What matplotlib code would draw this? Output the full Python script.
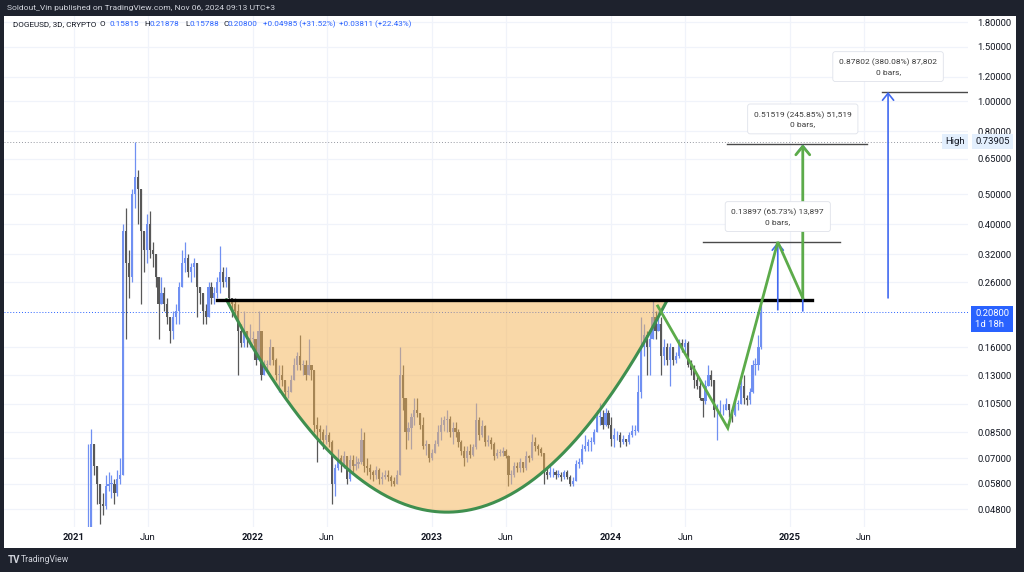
import matplotlib
matplotlib.use('Agg')
import matplotlib.pyplot as plt
import matplotlib.dates as mdates
import matplotlib.transforms as mtrans
from matplotlib.patches import Rectangle
from matplotlib.ticker import NullLocator
import numpy as np
import pandas as pd

plt.rcParams['font.family'] = ['Roboto', 'DejaVu Sans']

W, H = 1024, 572

# DOGEUSD candles (one candle per 6 days from 2021-01-28)
first_open = 0.0075
closes = [0.037, 0.078, 0.066, 0.058, 0.050, 0.049, 0.057, 0.058, 0.058, 0.054,
          0.060, 0.062, 0.38, 0.30, 0.27, 0.50, 0.57, 0.52, 0.38, 0.33,
          0.40, 0.33, 0.32, 0.27, 0.22, 0.24, 0.22, 0.20, 0.18, 0.20,
          0.21, 0.25, 0.30, 0.31, 0.28, 0.29, 0.30, 0.25, 0.24, 0.21,
          0.20, 0.25, 0.23, 0.24, 0.26, 0.28, 0.26, 0.27, 0.23, 0.22,
          0.21, 0.18, 0.165, 0.18, 0.17, 0.17, 0.17, 0.145, 0.18, 0.13,
          0.14, 0.14, 0.16, 0.145, 0.13, 0.13, 0.125, 0.115, 0.115, 0.125,
          0.14, 0.15, 0.14, 0.14, 0.13, 0.14, 0.135, 0.09, 0.087, 0.085,
          0.08, 0.083, 0.079, 0.058, 0.065, 0.07, 0.067, 0.071, 0.06, 0.069,
          0.066, 0.067, 0.068, 0.08, 0.066, 0.065, 0.063, 0.062, 0.064, 0.06,
          0.061, 0.062, 0.061, 0.059, 0.058, 0.062, 0.13, 0.11, 0.085, 0.088,
          0.095, 0.10, 0.098, 0.09, 0.077, 0.078, 0.07, 0.073, 0.078, 0.085,
          0.09, 0.093, 0.094, 0.085, 0.088, 0.085, 0.079, 0.074, 0.07, 0.074,
          0.072, 0.076, 0.093, 0.083, 0.089, 0.079, 0.08, 0.078, 0.071, 0.073,
          0.073, 0.074, 0.071, 0.062, 0.062, 0.066, 0.065, 0.068, 0.065, 0.071,
          0.07, 0.079, 0.077, 0.075, 0.073, 0.063, 0.062, 0.063, 0.063, 0.062,
          0.062, 0.061, 0.063, 0.061, 0.058, 0.059, 0.067, 0.068, 0.075, 0.077,
          0.079, 0.079, 0.085, 0.095, 0.095, 0.09, 0.098, 0.09, 0.081, 0.083,
          0.083, 0.079, 0.081, 0.079, 0.083, 0.086, 0.086, 0.115, 0.16, 0.175,
          0.16, 0.17, 0.20, 0.18, 0.19, 0.15, 0.16, 0.145, 0.16, 0.145,
          0.15, 0.165, 0.16, 0.165, 0.14, 0.135, 0.125, 0.12, 0.11, 0.107,
          0.12, 0.13, 0.125, 0.10, 0.10, 0.10, 0.10, 0.105, 0.10, 0.097,
          0.105, 0.105, 0.12, 0.11, 0.108, 0.115, 0.14, 0.14, 0.16, 0.208]
highs = [0.078, 0.087, 0.078, 0.063, 0.058, 0.054, 0.062, 0.063, 0.062, 0.060,
         0.064, 0.070, 0.40, 0.45, 0.33, 0.52, 0.739, 0.60, 0.52, 0.38,
         0.43, 0.44, 0.35, 0.32, 0.27, 0.27, 0.25, 0.23, 0.20, 0.21,
         0.22, 0.26, 0.33, 0.35, 0.32, 0.30, 0.31, 0.30, 0.25, 0.24,
         0.22, 0.26, 0.26, 0.25, 0.27, 0.34, 0.29, 0.29, 0.27, 0.23,
         0.23, 0.22, 0.19, 0.21, 0.18, 0.19, 0.18, 0.17, 0.21, 0.18,
         0.145, 0.145, 0.17, 0.16, 0.148, 0.14, 0.14, 0.125, 0.12, 0.13,
         0.148, 0.155, 0.175, 0.145, 0.145, 0.17, 0.14, 0.135, 0.095, 0.09,
         0.087, 0.09, 0.085, 0.08, 0.067, 0.075, 0.072, 0.074, 0.07, 0.072,
         0.072, 0.071, 0.07, 0.088, 0.085, 0.07, 0.067, 0.064, 0.066, 0.065,
         0.063, 0.064, 0.064, 0.062, 0.061, 0.064, 0.16, 0.14, 0.11, 0.092,
         0.098, 0.11, 0.11, 0.097, 0.095, 0.08, 0.078, 0.075, 0.08, 0.09,
         0.095, 0.096, 0.10, 0.096, 0.092, 0.092, 0.087, 0.08, 0.077, 0.077,
         0.078, 0.078, 0.106, 0.095, 0.093, 0.09, 0.083, 0.082, 0.079, 0.075,
         0.075, 0.076, 0.075, 0.072, 0.064, 0.068, 0.068, 0.07, 0.068, 0.074,
         0.072, 0.084, 0.082, 0.078, 0.076, 0.073, 0.065, 0.066, 0.065, 0.064,
         0.064, 0.063, 0.064, 0.064, 0.062, 0.061, 0.069, 0.07, 0.078, 0.083,
         0.081, 0.082, 0.087, 0.10, 0.106, 0.10, 0.102, 0.10, 0.095, 0.088,
         0.086, 0.085, 0.083, 0.081, 0.085, 0.09, 0.09, 0.13, 0.20, 0.19,
         0.18, 0.18, 0.227, 0.21, 0.21, 0.20, 0.17, 0.165, 0.165, 0.16,
         0.155, 0.17, 0.17, 0.17, 0.168, 0.145, 0.14, 0.13, 0.125, 0.11,
         0.125, 0.14, 0.135, 0.125, 0.105, 0.108, 0.105, 0.11, 0.105, 0.10,
         0.107, 0.108, 0.125, 0.13, 0.112, 0.118, 0.145, 0.148, 0.175, 0.219]
lows = [0.0075, 0.035, 0.062, 0.050, 0.043, 0.046, 0.048, 0.055, 0.052, 0.050,
        0.053, 0.058, 0.062, 0.17, 0.23, 0.26, 0.45, 0.40, 0.22, 0.28,
        0.30, 0.31, 0.29, 0.25, 0.17, 0.22, 0.21, 0.19, 0.165, 0.17,
        0.19, 0.19, 0.25, 0.28, 0.27, 0.26, 0.27, 0.20, 0.22, 0.19,
        0.19, 0.20, 0.22, 0.22, 0.23, 0.24, 0.25, 0.25, 0.22, 0.20,
        0.20, 0.13, 0.16, 0.16, 0.16, 0.16, 0.165, 0.14, 0.145, 0.125,
        0.13, 0.135, 0.14, 0.14, 0.125, 0.115, 0.12, 0.11, 0.11, 0.115,
        0.125, 0.135, 0.135, 0.13, 0.125, 0.13, 0.125, 0.085, 0.068, 0.08,
        0.075, 0.078, 0.076, 0.050, 0.053, 0.064, 0.063, 0.065, 0.058, 0.059,
        0.063, 0.064, 0.065, 0.067, 0.063, 0.062, 0.060, 0.059, 0.060, 0.058,
        0.058, 0.060, 0.059, 0.057, 0.057, 0.058, 0.07, 0.10, 0.075, 0.08,
        0.075, 0.09, 0.095, 0.087, 0.075, 0.072, 0.068, 0.069, 0.073, 0.077,
        0.08, 0.086, 0.085, 0.082, 0.078, 0.082, 0.076, 0.072, 0.066, 0.068,
        0.07, 0.071, 0.075, 0.08, 0.082, 0.077, 0.077, 0.075, 0.069, 0.07,
        0.071, 0.071, 0.07, 0.057, 0.058, 0.061, 0.063, 0.063, 0.063, 0.064,
        0.068, 0.069, 0.074, 0.072, 0.071, 0.058, 0.06, 0.061, 0.061, 0.06,
        0.061, 0.059, 0.06, 0.06, 0.057, 0.057, 0.059, 0.065, 0.067, 0.074,
        0.074, 0.074, 0.078, 0.085, 0.09, 0.087, 0.089, 0.088, 0.077, 0.076,
        0.08, 0.076, 0.078, 0.077, 0.078, 0.082, 0.083, 0.085, 0.11, 0.15,
        0.13, 0.13, 0.17, 0.17, 0.18, 0.13, 0.14, 0.14, 0.12, 0.14,
        0.142, 0.148, 0.155, 0.155, 0.138, 0.13, 0.118, 0.117, 0.108, 0.095,
        0.105, 0.12, 0.12, 0.095, 0.08, 0.098, 0.097, 0.10, 0.095, 0.092,
        0.096, 0.10, 0.105, 0.105, 0.104, 0.105, 0.114, 0.13, 0.135, 0.158]

price_ticks = [1.8, 1.5, 1.2, 1.0, 0.8, 0.65, 0.5, 0.4, 0.32, 0.26,
               0.16, 0.13, 0.105, 0.085, 0.07, 0.058, 0.048]
date_ticks = ['2021-01-01', '2021-06-01', '2022-01-01', '2022-06-01', '2023-01-01',
              '2023-06-01', '2024-01-01', '2024-06-01', '2025-01-01', '2025-06-01']
date_labels = ['2021', 'Jun', '2022', 'Jun', '2023', 'Jun', '2024', 'Jun', '2025', 'Jun']

last_price = 0.208
all_time_high = 0.73905
neckline = 0.2274

# cup drawing: start, bottom, end
cup_dates = ['2021-11-08', '2023-02-01', '2024-04-25']
cup_bottom = 0.0469

# green zigzag path
zz_dates = ['2024-04-06', '2024-08-27', '2024-12-07', '2025-01-27', '2025-01-27']
zz_prices = [0.2175, 0.0877, 0.3504, 0.2309, 0.7248]

# measurement arrows: date, base, target, label
meas_dates = ['2024-12-07', '2025-01-27', '2025-07-20']
meas_base = [0.2114, 0.2096, 0.2310]
meas_top = [0.3504, 0.7248, 1.07]
meas_text = ['0.13897 (65.73%) 13,897\n0 bars,',
             '0.51519 (245.85%) 51,519\n0 bars,',
             '0.87802 (380.08%) 87,802\n0 bars,']
meas_line_from = ['2024-07-07', '2024-08-25', '2025-07-08']
meas_line_to = ['2025-04-13', '2025-06-08', '2025-12-28']

fig = plt.figure(figsize=(W / 100, H / 100), dpi=100, facecolor='#1e222d')
fig.patches.append(Rectangle((4 / W, 1 - 548 / H), (1016 - 4) / W, (548 - 16) / H,
                             transform=fig.transFigure, fc='white', ec='none', zorder=-5))

ax = fig.add_axes([4 / W, 1 - 527 / H, (968 - 4) / W, (527 - 16) / H])
ax.set_zorder(2)
ax.set_facecolor('white')
ax.set_yscale('log')
base = mdates.date2num(pd.Timestamp('2021-01-01'))
ax.set_xlim(base - 142.8, base + 1824.1)
ax.set_ylim(0.04199, 1.883)
for s in ax.spines.values():
    s.set_visible(False)

ax.yaxis.set_ticks_position('right')
ax.set_yticks(price_ticks)
ax.set_yticklabels(['%.5f' % t for t in price_ticks])
ax.yaxis.set_minor_locator(NullLocator())
ax.tick_params(axis='y', which='both', length=0, pad=7, labelsize=6.8, labelcolor='#131722')
ax.set_xticks([mdates.date2num(pd.Timestamp(d)) for d in date_ticks])
ax.set_xticklabels(date_labels)
ax.tick_params(axis='x', length=0, pad=4, labelsize=6.8, labelcolor='#131722')
for lab in ax.get_xticklabels():
    if lab.get_text() != 'Jun':
        lab.set_fontweight('bold')
ax.grid(True, color='#f0f3fa', lw=0.9)
ax.set_axisbelow(True)

# candles
dates = pd.date_range('2021-01-28', periods=len(closes), freq='6D')
x = mdates.date2num(dates) + 1.5
opens = [first_open] + closes[:-1]
up_c, dn_c = '#7090f2', '#585858'
for xi, o, c, h, l in zip(x, opens, closes, highs, lows):
    col = up_c if c >= o else dn_c
    top, bot = max(o, c), min(o, c)
    ax.vlines(xi, min(l, bot), max(h, top), color=col, lw=0.9, zorder=2)
    ax.bar(xi, max(top - bot, top * 0.006), bottom=bot, width=4.4, color=col, lw=0, zorder=2)

# current price + all time high lines
ax.axhline(last_price, color='#2962ff', lw=0.7, ls=(0, (1, 2)), zorder=1.5)
ax.axhline(all_time_high, color='#9598a1', lw=0.7, ls=(0, (1, 2)), zorder=1.5)

# cup and handle drawing
cx = [mdates.date2num(pd.Timestamp(d)) for d in cup_dates]
half = (cx[2] - cx[0]) / 2
xs = np.linspace(cx[0], cx[2], 300)
lb, lt = np.log10(cup_bottom), np.log10(neckline)
curve = 10 ** (lb + (lt - lb) * ((xs - cx[1]) / half) ** 2)
ax.fill_between(xs, curve, neckline, color='#f4b352', alpha=0.5, lw=0, zorder=3)
ax.plot(xs, curve, color='#3f8f4f', lw=2.2, zorder=4, solid_capstyle='round')
ax.plot([mdates.date2num(pd.Timestamp('2021-10-19')), mdates.date2num(pd.Timestamp('2025-02-14'))],
        [neckline, neckline], color='black', lw=2.4, zorder=5)

# measurement lines and arrows
for d, b, t, txt, l0, l1 in zip(meas_dates, meas_base, meas_top, meas_text, meas_line_from, meas_line_to):
    xd = mdates.date2num(pd.Timestamp(d))
    ax.plot([mdates.date2num(pd.Timestamp(l0)), mdates.date2num(pd.Timestamp(l1))], [t, t],
            color='#4a4a4a', lw=1.0, zorder=5)
    ax.annotate('', xy=(xd, t), xytext=(xd, b),
                arrowprops=dict(arrowstyle='->,head_length=0.5,head_width=0.4', color='#4169f0',
                                lw=1.2, shrinkA=0, shrinkB=0), zorder=6)
    ax.annotate(txt, xy=(xd, t), xytext=(0, 25), textcoords='offset pixels', ha='center', va='center',
                fontsize=6, color='#3a3a3a', linespacing=1.6, zorder=8,
                bbox=dict(boxstyle='round,pad=0.75,rounding_size=0.3', fc='white', ec='#dfe2ea', lw=0.6))

zx = [mdates.date2num(pd.Timestamp(d)) for d in zz_dates]
ax.plot(zx[:-1], zz_prices[:-1], color='#5cab4a', lw=2.0, zorder=7, solid_joinstyle='miter')
ax.annotate('', xy=(zx[-1], zz_prices[-1]), xytext=(zx[-2], zz_prices[-2]),
            arrowprops=dict(arrowstyle='->,head_length=0.6,head_width=0.5', color='#5cab4a',
                            lw=2.0, shrinkA=0, shrinkB=0), zorder=7)

# price scale labels
tr = mtrans.blended_transform_factory(fig.transFigure, ax.transData)
ax.text(975 / W, all_time_high, '%.5f' % all_time_high, transform=tr, fontsize=6.8, color='#131722',
        va='center', ha='left', clip_on=False, zorder=9,
        bbox=dict(boxstyle='square,pad=0.35', fc='#e3effd', ec='none'))
ax.text(945 / W, all_time_high, 'High', transform=tr, fontsize=6.8, color='#131722',
        va='center', ha='left', clip_on=False, zorder=9,
        bbox=dict(boxstyle='square,pad=0.35', fc='#e3effd', ec='none'))
ax.annotate('%.5f\n1d 18h' % last_price, xy=(975 / W, last_price), xycoords=tr,
            xytext=(0, -7), textcoords='offset pixels', fontsize=6.8, color='white',
            va='center', ha='left', linespacing=1.15, annotation_clip=False, zorder=9,
            bbox=dict(boxstyle='square,pad=0.4', fc='#2962ff', ec='none'))

# header, legend, footer
fig.text(7 / W, 1 - 8 / H, 'Soldout_Vin published on TradingView.com, Nov 06, 2024 09:13 UTC+3',
         fontsize=6.1, color='#d1d4dc', va='center')
legend = [(13, 'DOGEUSD, 3D, CRYPTO', '#131722'), (100, 'O', '#131722'), (109, '0.15815', '#2962ff'),
          (144, 'H', '#131722'), (149, '0.21878', '#2962ff'), (185, 'L', '#131722'),
          (189, '0.15788', '#2962ff'), (223, 'C', '#131722'), (228, '0.20800', '#2962ff'),
          (263, '+0.04985 (+31.52%)', '#2962ff'), (339, '+0.03811 (+22.43%)', '#2962ff')]
for px, t, c in legend:
    fig.text(px / W, 1 - 24 / H, t, fontsize=5.9, color=c, va='center')
fig.text(8 / W, 1 - 560 / H, 'TV', fontsize=7, fontweight='bold', color='#d1d4dc', va='center')
fig.text(21 / W, 1 - 560 / H, 'TradingView', fontsize=6.2, color='#d1d4dc', va='center')

fig.savefig('out.png', dpi=100, facecolor=fig.get_facecolor())
